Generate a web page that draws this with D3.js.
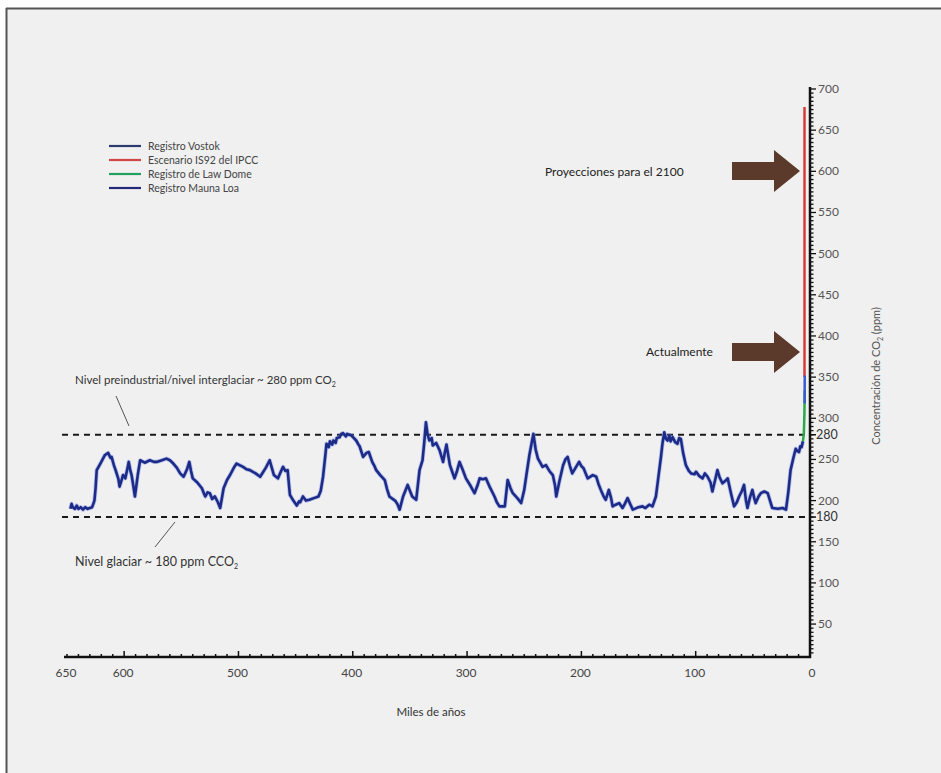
<!DOCTYPE html>
<html><head><meta charset="utf-8">
<script src="https://cdn.jsdelivr.net/npm/d3@7/dist/d3.min.js"></script>
<style>
html,body{margin:0;padding:0;background:#fff;}
svg{display:block;}
text{font-family:Lato,"Open Sans",sans-serif;fill:#333;}
</style></head>
<body>
<svg id="chart" width="941" height="773"></svg>
<script>
// ---- data (kyr before present, ppm CO2) ----
const vostokYears = [
 647,646,645,643,641.5,640,638,636,634,632,
 628,626,625,624,622,620,617,614,612,611,
 609,607,605,604,602,601,599,597,596,594.5,
 593.5,592,590.6,588,586,582,577.5,574,571.6,567,
 563,560,557,554,551,548,545,543,541.5,540,
 536,532,530,529,527,525,523,520.7,518,516,
 513,510,507,504,501.7,496,493,490,485,481,
 476,472.7,469,465.5,463,461,459,457,455,452,
 449,447,446,443.6,441,438,434,430,428,426,
 424,423,421,420,418,417,415,414,411.5,410,
 408.6,406,405,401,399,397,395,394,391,388,
 386,383,381,379.5,376,374,372,370,368,363,
 361,359,356,352,350,348,344.5,341.6,339,337.5,
 336,334.5,333,331,330,327,324,321,319.5,318,
 316.5,315,313,311,309,306.6,304,301,297,293.5,
 291,289,286,283.5,280,276,274,271.7,267,264.5,
 262,260,256,252.7,250,248,245.5,243.5,242,240,
 238,236,234,231,228,225,223,222,219,216,
 214,212,210,208,205,202,200,198,194.5,190,
 187,185,183,180.5,178.7,176,174,172.7,170,167,
 164,162,159.6,157,155,150,146.5,144,140.7,137.8,
 134.8,132.5,130.4,129,127.5,126,124.6,123,122,120.2,
 118,116,114.5,113,111,108.6,106,104,101,99.7,
 97,94,92,89.6,87,85.4,83,81,79,76.6,
 74,72,69,66.4,64,62,59.5,57.7,56,54.7,
 52.5,50.4,48.8,47.5,45,43,40,37,35,33,
 28,24,21,19,17,14.5,12.5,11,9.6,8.5,
 7.3,6.2];
const vostokPpm = [
 190,196,192,190,194,190,192,189,192,190,
 192,200,215,237,242,247,255,258,252,253,
 243,235,226,217,226,231,227,240,247,236,
 231,218,205,232,249,246,249,247,247,249,
 251,249,245,240,233,229,238,247,236,227,
 222,215,208,205,210,209,202,205,198,191,
 215,225,232,240,245,241,238,237,233,229,
 240,249,231,227,235,241,236,237,207,200,
 194,199,198,205,200,201,203,205,212,229,
 255,269,265,272,268,273,270,276,277,281,
 282,278,281,279,276,273,268,266,253,258,
 259,247,242,237,231,228,225,214,205,200,
 196,189,205,219,212,205,201,237,249,270,
 295,280,273,276,267,270,261,247,258,268,
 255,243,235,227,235,247,238,227,218,209,
 218,227,226,227,216,205,198,193,193,225,
 215,209,203,197,213,232,255,270,281,262,
 251,246,241,243,236,231,218,205,225,243,
 250,253,242,233,240,247,242,239,227,231,
 229,220,213,205,201,213,203,193,195,197,
 191,196,203,195,189,192,193,191,195,193,
 205,230,253,270,283,275,273,279,272,277,
 271,269,276,275,258,243,236,233,232,235,
 230,227,233,229,222,211,225,237,228,221,
 224,227,208,193,198,205,212,219,200,191,
 204,213,203,197,205,209,211,209,200,191,
 190,191,189,210,237,252,263,260,259,266,
 265,272];
const lawDomeYears = [6.2,5.4,4.9,4.6];
const lawDomePpm   = [272,281,305,334];
const maunaLoaYears = [4.7,4.6];
const maunaLoaPpm   = [318,352];
const ipccYears = [4.8,4.8];
const ipccPpm   = [350,678];

const xTicks = [650,600,500,400,300,200,100,0];
const yTicks = [50,100,150,200,250,300,350,400,450,500,550,600,650,700];
const refLevels = [280,180];

const legendLabels = ["Registro Vostok","Escenario IS92 del IPCC","Registro de Law Dome","Registro Mauna Loa"];
const legendColors = ["#2c3a6e","#d04545","#22a060","#22287a"];

// ---- layout ----
const svg = d3.select("#chart");
svg.append("rect").attr("x",6).attr("y",8).attr("width",941).attr("height",773).attr("fill","#f0f0f0");
svg.append("line").attr("x1",6).attr("x2",941).attr("y1",8.5).attr("y2",8.5).attr("stroke","#555").attr("stroke-width",2);
svg.append("line").attr("x1",6.5).attr("x2",6.5).attr("y1",8).attr("y2",773).attr("stroke","#555").attr("stroke-width",2);

const x = d3.scaleLinear().domain([650,0]).range([67,810]);
const y = d3.scaleLinear().domain([10,700]).range([657,89]);

// reference dashed lines
svg.selectAll("line.ref").data(refLevels).join("line").attr("class","ref")
  .attr("x1",62).attr("x2",x(0)).attr("y1",d=>y(d)).attr("y2",d=>y(d))
  .attr("stroke","#1a1a1a").attr("stroke-width",2).attr("stroke-dasharray","6,5");

// x axis
const xAxis = svg.append("g");
xAxis.append("line").attr("x1",64).attr("x2",x(0)+1).attr("y1",657).attr("y2",657).attr("stroke","#111").attr("stroke-width",2.5);
xAxis.selectAll("line.minor").data(d3.range(0,651,10)).join("line").attr("class","minor")
  .attr("x1",d=>x(d)).attr("x2",d=>x(d)).attr("y1",657).attr("y2",d=>d%100===0?651:654)
  .attr("stroke","#111").attr("stroke-width",1.5);
xAxis.selectAll("text").data(xTicks).join("text")
  .attr("x",d=>x(d)+(d===0?2:-1)).attr("y",677).attr("text-anchor","middle")
  .attr("font-size",12).style("fill","#444").text(d=>d);

// y axis
const yAxis = svg.append("g");
yAxis.append("line").attr("x1",x(0)).attr("x2",x(0)).attr("y1",87).attr("y2",658).attr("stroke","#111").attr("stroke-width",2.5);
yAxis.selectAll("line.minor").data(d3.range(15,701,5)).join("line").attr("class","minor")
  .attr("x1",x(0)).attr("x2",d=>x(0)+(d%50===0?6:3.5)).attr("y1",d=>y(d)).attr("y2",d=>y(d))
  .attr("stroke","#111").attr("stroke-width",1.3);
yAxis.selectAll("line.ref").data(refLevels).join("line").attr("class","ref")
  .attr("x1",x(0)).attr("x2",x(0)+6).attr("y1",d=>y(d)).attr("y2",d=>y(d)).attr("stroke","#111").attr("stroke-width",1.5);
yAxis.selectAll("text.t").data(yTicks).join("text").attr("class","t")
  .attr("x",818).attr("y",d=>y(d)+4).attr("font-size",12).style("fill","#555").text(d=>d);
yAxis.selectAll("text.r").data(refLevels).join("text").attr("class","r")
  .attr("x",816).attr("y",d=>y(d)+4).attr("font-size",12.5).style("fill","#333").text(d=>d);

// y title
const yt = svg.append("text").attr("transform","translate(880,376) rotate(-90)")
  .attr("text-anchor","middle").attr("font-size",11).style("fill","#555");
yt.append("tspan").text("Concentración de CO");
yt.append("tspan").attr("font-size",7).attr("dy",3).text("2");
yt.append("tspan").attr("dy",-3).text(" (ppm)");

// x title
svg.append("text").attr("x",431).attr("y",716).attr("text-anchor","middle").attr("font-size",11.5).style("fill","#333").text("Miles de años");

// series
const line = d3.line().x(d=>x(d[0])).y(d=>y(d[1]));
const vostok = d3.zip(vostokYears, vostokPpm);
svg.append("path").datum(vostok).attr("d",line).attr("fill","none").attr("stroke","#7d8fe0").attr("stroke-width",4.2).attr("stroke-opacity",0.5).attr("stroke-linejoin","round");
svg.append("path").datum(vostok).attr("d",line).attr("fill","none").attr("stroke","#1c2a88").attr("stroke-width",2.6).attr("stroke-linejoin","round");
svg.append("path").datum(d3.zip(ipccYears, ipccPpm)).attr("d",line).attr("fill","none").attr("stroke","#d83a3a").attr("stroke-width",2.5);
svg.append("path").datum(d3.zip(lawDomeYears, lawDomePpm)).attr("d",line).attr("fill","none").attr("stroke","#2aa84a").attr("stroke-width",2.5);
svg.append("path").datum(d3.zip(maunaLoaYears, maunaLoaPpm)).attr("d",line).attr("fill","none").attr("stroke","#3a5ad0").attr("stroke-width",2.5);

// legend
const lg = svg.append("g");
legendLabels.forEach((t,i)=>{
  const yy = 146 + i*14;
  lg.append("line").attr("x1",109).attr("x2",141).attr("y1",yy).attr("y2",yy).attr("stroke",legendColors[i]).attr("stroke-width",2.2);
  lg.append("text").attr("x",148).attr("y",yy+4).attr("font-size",10.5).style("fill","#444").text(t);
});

// annotations
const a1 = svg.append("text").attr("x",75).attr("y",384).attr("font-size",11.5).style("fill","#333");
a1.append("tspan").text("Nivel preindustrial/nivel interglaciar ~ 280 ppm CO");
a1.append("tspan").attr("font-size",7).attr("dy",3).text("2");
svg.append("line").attr("x1",116).attr("y1",396).attr("x2",129).attr("y2",426).attr("stroke","#555").attr("stroke-width",1);

const a2 = svg.append("text").attr("x",75).attr("y",566).attr("font-size",12.5).style("fill","#333");
a2.append("tspan").text("Nivel glaciar ~ 180 ppm CCO");
a2.append("tspan").attr("font-size",7).attr("dy",3).text("2");
svg.append("line").attr("x1",175).attr("y1",522).attr("x2",155).attr("y2",547).attr("stroke","#555").attr("stroke-width",1);

// arrows
function arrow(tipX, cy){
  const p = d3.path();
  p.moveTo(tipX-68, cy-9); p.lineTo(tipX-26, cy-9); p.lineTo(tipX-26, cy-21);
  p.lineTo(tipX, cy); p.lineTo(tipX-26, cy+21); p.lineTo(tipX-26, cy+9);
  p.lineTo(tipX-68, cy+9); p.closePath();
  svg.append("path").attr("d",p.toString()).attr("fill","#5b3a2b");
}
arrow(800, 171);
arrow(800, 352);
svg.append("text").attr("x",545).attr("y",176).attr("font-size",12).style("fill","#222").text("Proyecciones para el 2100");
svg.append("text").attr("x",646).attr("y",356).attr("font-size",12).style("fill","#222").text("Actualmente");
</script>
</body></html>
